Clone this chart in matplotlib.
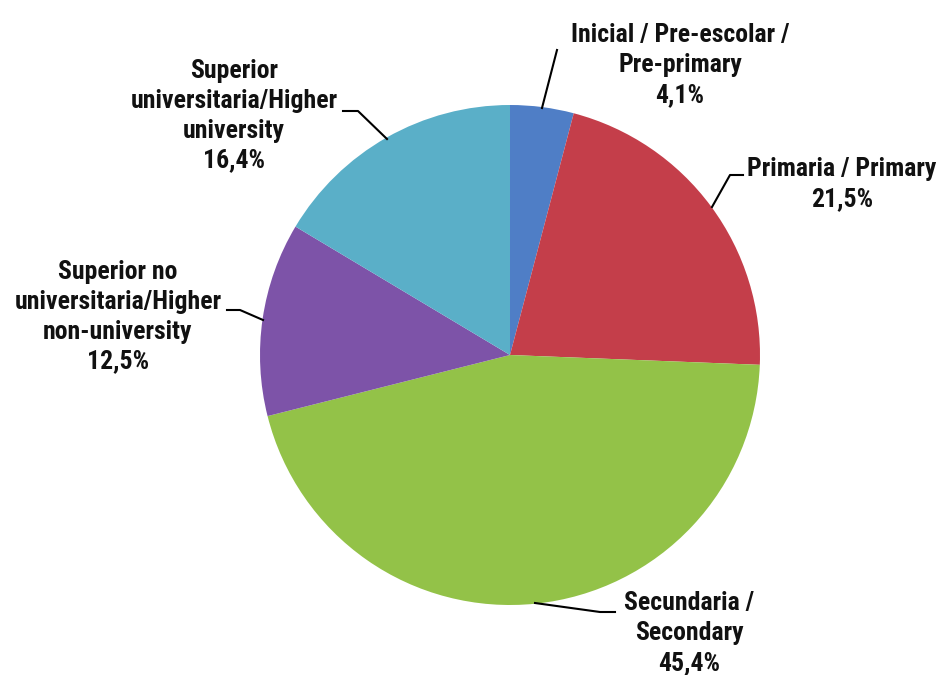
import matplotlib.pyplot as plt

# Nivel educativo - distribución porcentual
etiquetas = [
    "Inicial / Pre-escolar /\nPre-primary",
    "Primaria / Primary",
    "Secundaria /\nSecondary",
    "Superior no\nuniversitaria/Higher\nnon-university",
    "Superior\nuniversitaria/Higher\nuniversity",
]
valores = [4.1, 21.5, 45.4, 12.5, 16.4]
colores = ["#4F7EC6", "#C43E4A", "#93C248", "#7D53A8", "#5AAFC8"]

# Posiciones en píxeles (origen arriba a la izquierda)
W, H = 940, 675
CENTRO = (510, 355)
RADIO = 250
pos_texto = [(680, 65), (842, 184), (689, 633), (118, 317), (234, 116)]
guias = [
    [(542, 108), (557, 50)],
    [(712, 207), (730, 175), (743, 175)],
    [(535, 603), (600, 612), (615, 612)],
    [(263, 320), (240, 310), (227, 310)],
    [(387, 139), (358, 111), (343, 111)],
]

fuente = ["Roboto Condensed", "DejaVu Sans"]

fig = plt.figure(figsize=(W / 100, H / 100), dpi=100)
ax = fig.add_axes([0, 0, 1, 1])

ax.pie(valores, colors=colores, startangle=90, counterclock=False,
       center=(CENTRO[0], H - CENTRO[1]), radius=RADIO,
       wedgeprops=dict(linewidth=0))
ax.set_xlim(0, W)
ax.set_ylim(0, H)
ax.set_aspect("equal")
ax.axis("off")

for etq, val, (x, y) in zip(etiquetas, valores, pos_texto):
    texto = f"{etq}\n{val:.1f}%".replace(".", ",")
    ax.text(x, H - y, texto, ha="center", va="center", fontsize=18.5,
            fontweight="bold", family=fuente, linespacing=1.3,
            color="#111111")

for g in guias:
    xs = [p[0] for p in g]
    ys = [H - p[1] for p in g]
    ax.plot(xs, ys, color="black", linewidth=1.5)

fig.savefig("out.png", dpi=100)
